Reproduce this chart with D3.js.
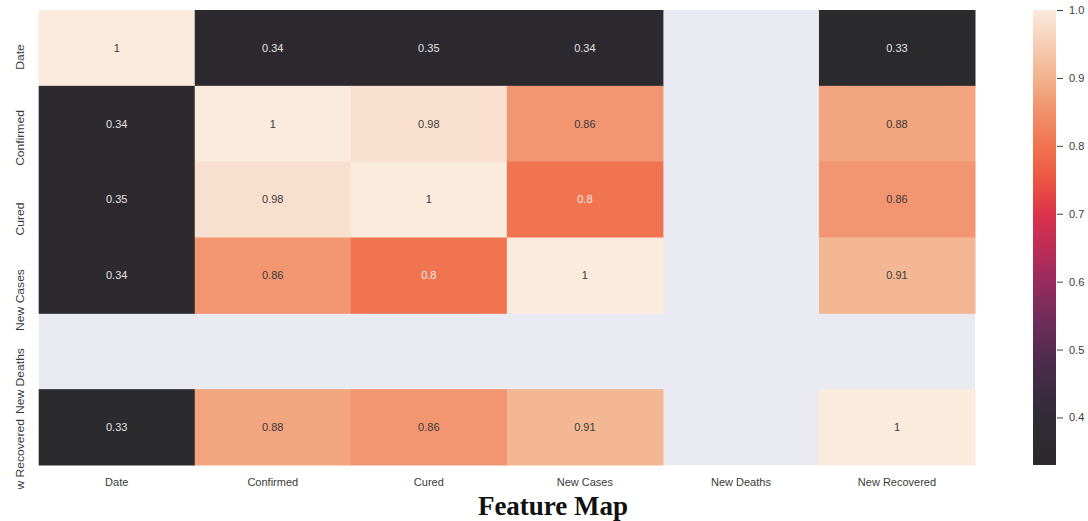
<!DOCTYPE html>
<html>
<head>
<meta charset="utf-8">
<script src="https://cdn.jsdelivr.net/npm/d3@7"></script>
<style>
  html, body { margin: 0; padding: 0; background: #ffffff; }
  svg { display: block; }
</style>
</head>
<body>
<svg id="chart" width="1088" height="521"></svg>
<script>
// Feature names (rows and columns of the correlation matrix)
const features = ["Date", "Confirmed", "Cured", "New Cases", "New Deaths", "New Recovered"];

// Correlation rows; null = undefined correlation (constant column)
const rowDate          = [1,    0.34, 0.35, 0.34, null, 0.33];
const rowConfirmed     = [0.34, 1,    0.98, 0.86, null, 0.88];
const rowCured         = [0.35, 0.98, 1,    0.8,  null, 0.86];
const rowNewCases      = [0.34, 0.86, 0.8,  1,    null, 0.91];
const rowNewDeaths     = [null, null, null, null, null, null];
const rowNewRecovered  = [0.33, 0.88, 0.86, 0.91, null, 1];
const matrix = [rowDate, rowConfirmed, rowCured, rowNewCases, rowNewDeaths, rowNewRecovered];

// Colour bar range and tick labels
const colorMin = 0.33;
const colorMax = 1.0;
const colorTicks = [0.4, 0.5, 0.6, 0.7, 0.8, 0.9, 1.0];

const title = "Feature Map";

// ---- layout ----
const svg = d3.select("#chart");
const plot = { left: 38.7, top: 10, right: 975, bottom: 465 };
const cbar = { left: 1033, right: 1056 };

const x = d3.scaleBand().domain(features).range([plot.left, plot.right]).padding(0);
const y = d3.scaleBand().domain(features).range([plot.top, plot.bottom]).padding(0);
// row labels sit on a slightly longer track than the rows themselves
const yLabel = d3.scalePoint().domain(features).range([57, 462]);

// Rocket-like sequential palette
const color = d3.scaleLinear()
  .domain([0.33, 0.40, 0.45, 0.50, 0.55, 0.60, 0.65, 0.70, 0.75, 0.80, 0.86, 0.88, 0.91, 0.98, 1.00])
  .range(["#2b2a2d", "#302b35", "#3f2c44", "#552c52", "#742d5b", "#982c5d", "#bd2d57",
          "#dc334b", "#eb5641", "#f0744f", "#f19670", "#f2a57e", "#f3b794", "#f9dfcd", "#faebdd"])
  .interpolate(d3.interpolateRgb)
  .clamp(true);

// axes background (shows through for missing values)
svg.append("rect")
  .attr("x", plot.left).attr("y", plot.top)
  .attr("width", plot.right - plot.left).attr("height", plot.bottom - plot.top)
  .attr("fill", "#eaeaf2");

const cells = [];
matrix.forEach((row, i) => row.forEach((v, j) => {
  if (v !== null) cells.push({ r: features[i], c: features[j], v });
}));

const fmt = d3.format(".2~g");

svg.append("g").selectAll("rect").data(cells).join("rect")
  .attr("x", d => x(d.c))
  .attr("y", d => y(d.r))
  .attr("width", x.bandwidth() + 0.5)
  .attr("height", y.bandwidth() + 0.5)
  .attr("fill", d => color(d.v));

svg.append("g").selectAll("text").data(cells).join("text")
  .attr("x", d => x(d.c) + x.bandwidth() / 2)
  .attr("y", d => y(d.r) + y.bandwidth() / 2)
  .attr("dy", "0.35em")
  .attr("text-anchor", "middle")
  .attr("font-family", "Liberation Sans, Arial, sans-serif")
  .attr("font-size", 11)
  .attr("fill", d => d.v < 0.5 ? "#e2e2e2" : (d.v <= 0.8 ? "#fbeee6" : "#3a3a3a"))
  .text(d => fmt(d.v));

// x tick labels
const xAxis = d3.axisBottom(x).tickSize(0).tickPadding(13);
const gx = svg.append("g").attr("transform", `translate(0,${plot.bottom})`).call(xAxis);
gx.select(".domain").remove();
gx.selectAll("text")
  .attr("font-family", "Liberation Sans, Arial, sans-serif")
  .attr("font-size", 11)
  .attr("fill", "#3a3a3a");

// y tick labels (rotated), clipped just below the plot
svg.append("clipPath").attr("id", "ylabClip")
  .append("rect").attr("x", 0).attr("y", 0).attr("width", 36).attr("height", 489.5);

const gy = svg.append("g").attr("clip-path", "url(#ylabClip)");
gy.selectAll("text").data(features).join("text")
  .attr("transform", d => `translate(24,${yLabel(d)}) rotate(-90) scale(1.1,1)`)
  .attr("text-anchor", "middle")
  .attr("font-family", "Liberation Sans, Arial, sans-serif")
  .attr("font-size", 11)
  .attr("fill", "#3a3a3a")
  .text(d => d);

// ---- colour bar ----
const cy = d3.scaleLinear().domain([colorMin, colorMax]).range([plot.bottom, plot.top]);

const grad = svg.append("defs").append("linearGradient")
  .attr("id", "cbarGrad")
  .attr("x1", 0).attr("y1", 1).attr("x2", 0).attr("y2", 0);
d3.range(0, 1.0001, 0.02).forEach(t => {
  const v = colorMin + t * (colorMax - colorMin);
  grad.append("stop").attr("offset", t).attr("stop-color", color(v));
});

svg.append("rect")
  .attr("x", cbar.left).attr("y", plot.top)
  .attr("width", cbar.right - cbar.left).attr("height", plot.bottom - plot.top)
  .attr("fill", "url(#cbarGrad)");

const cAxis = d3.axisRight(cy).tickValues(colorTicks).tickFormat(d3.format(".1f")).tickSize(6).tickPadding(6);
const gc = svg.append("g").attr("transform", `translate(${cbar.right + 1},0)`).call(cAxis);
gc.select(".domain").remove();
gc.selectAll("line").attr("stroke", "#444").attr("stroke-width", 1);
gc.selectAll("text")
  .attr("font-family", "Liberation Sans, Arial, sans-serif")
  .attr("font-size", 11)
  .attr("fill", "#3a3a3a");

// ---- title ----
svg.append("text")
  .attr("x", 553).attr("y", 515)
  .attr("text-anchor", "middle")
  .attr("font-family", "Liberation Serif, Times New Roman, serif")
  .attr("font-weight", "bold")
  .attr("font-size", 27)
  .attr("fill", "#111")
  .text(title);
</script>
</body>
</html>
